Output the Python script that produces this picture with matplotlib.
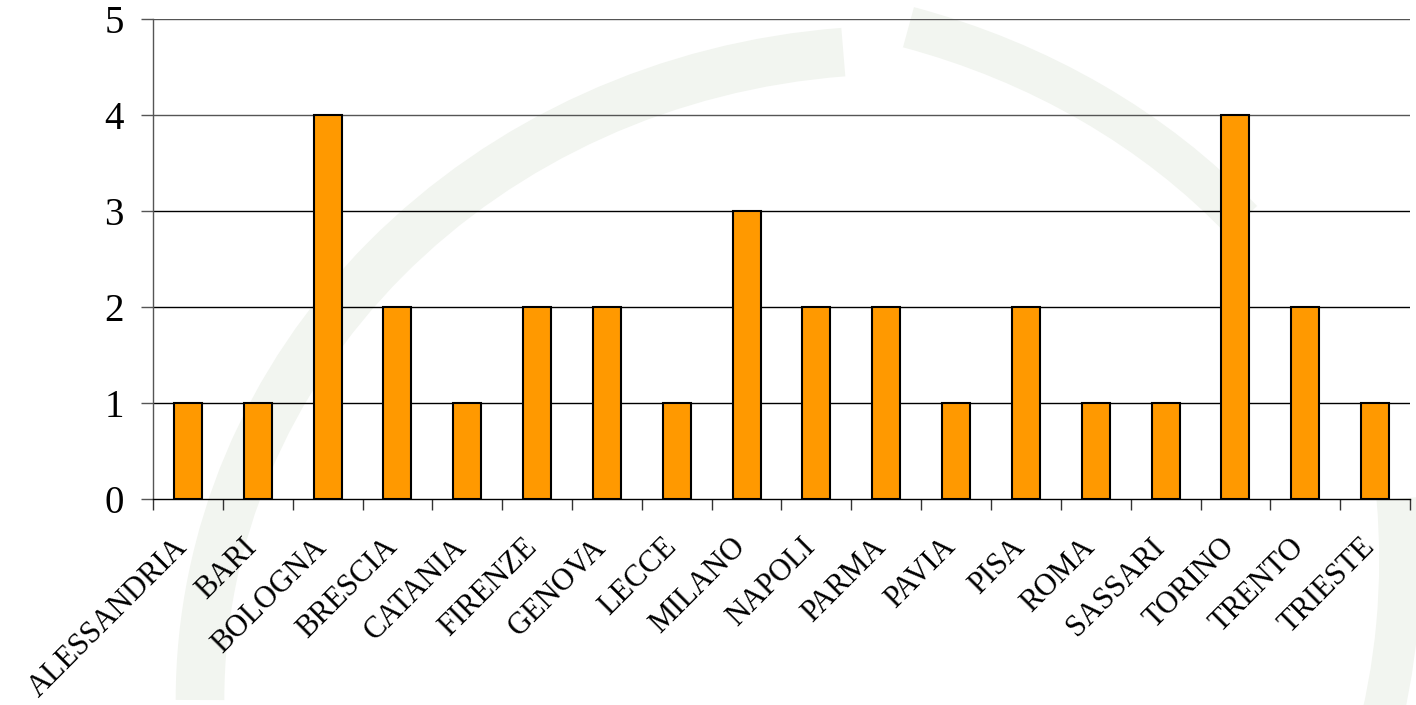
import matplotlib
matplotlib.use("Agg")
import matplotlib.pyplot as plt
from matplotlib.patches import Arc
import matplotlib.transforms as mtransforms
import numpy as np

cities = ["ALESSANDRIA", "BARI", "BOLOGNA", "BRESCIA", "CATANIA", "FIRENZE",
          "GENOVA", "LECCE", "MILANO", "NAPOLI", "PARMA", "PAVIA", "PISA",
          "ROMA", "SASSARI", "TORINO", "TRENTO", "TRIESTE"]
values = [1, 1, 4, 2, 1, 2, 2, 1, 3, 2, 2, 1, 2, 1, 1, 4, 2, 1]
yticks = [0, 1, 2, 3, 4, 5]

plt.rcParams['font.family'] = ['Liberation Serif', 'DejaVu Serif']

fig = plt.figure(figsize=(14.16, 7.05), dpi=100)
fig.patch.set_facecolor('white')

# faint watermark arcs in background
bg = fig.add_axes([0, 0, 1, 1], zorder=0)
bg.set_xlim(0, 1416)
bg.set_ylim(705, 0)
bg.axis('off')
wm = '#f2f5f0'
bg.add_patch(Arc((900, 700), 1400, 1300, angle=0, theta1=180, theta2=265,
                 color=wm, lw=35))
bg.add_patch(Arc((700, 600), 1400, 1200, angle=0, theta1=290, theta2=325,
                 color=wm, lw=30))
bg.add_patch(Arc((1050, 560), 700, 1000, angle=0, theta1=350, theta2=30,
                 color=wm, lw=30))

ax = fig.add_axes([153/1416, 1-499/705, (1410-153)/1416, (499-19)/705], zorder=1)
ax.patch.set_alpha(0)

x = np.arange(len(cities))
ax.bar(x, values, width=0.4, color='#FF9900', edgecolor='black', linewidth=1.5, zorder=3)

ax.set_xlim(-0.5, len(cities) - 0.5)
ax.set_ylim(0, 5)
ax.set_yticks(yticks)
ax.set_yticklabels([str(v) for v in yticks], fontsize=28)
for v in yticks[1:]:
    ax.axhline(v, color='black' if v < 4 else '#555555', lw=1, zorder=1)

ax.set_xticks(x)
ax.set_xticklabels(cities, rotation=45, ha='right', va='center',
                   rotation_mode='anchor', fontsize=22)
ax.tick_params(axis='x', which='major', length=0, pad=33)
offset = mtransforms.ScaledTranslation(-5/100, 2/100, fig.dpi_scale_trans)
for lab in ax.get_xticklabels():
    lab.set_transform(lab.get_transform() + offset)
ax.set_xticks(np.arange(-0.5, len(cities), 1.0), minor=True)
ax.tick_params(axis='x', which='minor', length=8, width=1, color='#333333', direction='out')
ax.tick_params(axis='y', length=9, width=1, color='#555555', pad=12, direction='out')

for s in ['top', 'right']:
    ax.spines[s].set_visible(False)
ax.spines['left'].set_color('#555555')
ax.spines['bottom'].set_color('black')
ax.spines['left'].set_linewidth(1)
ax.spines['bottom'].set_linewidth(1)

fig.savefig('out.png', dpi=100, facecolor='white')
